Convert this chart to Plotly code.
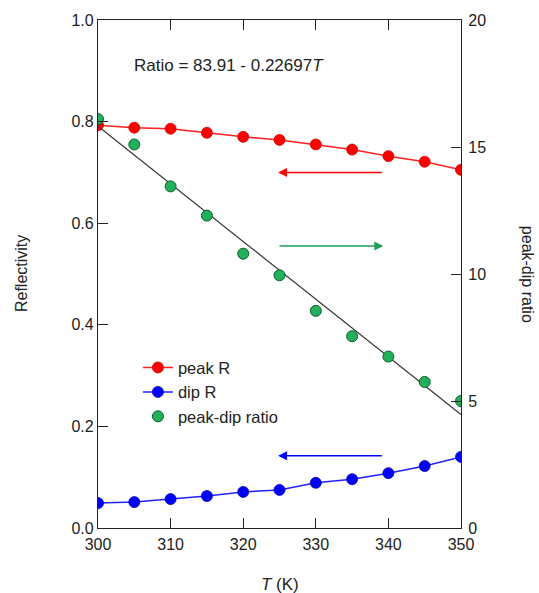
import plotly.graph_objects as go

T = [300, 305, 310, 315, 320, 325, 330, 335, 340, 345, 350]
peak_R = [0.793, 0.788, 0.786, 0.778, 0.770, 0.764, 0.755, 0.745, 0.732, 0.721, 0.705]
dip_R = [0.049, 0.051, 0.057, 0.063, 0.071, 0.075, 0.089, 0.096, 0.108, 0.122, 0.140]
ratio = [16.1, 15.1, 13.45, 12.3, 10.8, 9.95, 8.55, 7.55, 6.75, 5.75, 5.0]
fit_a, fit_b = 83.91, -0.22697
fit_T = [300, 350]
fit_vals = [fit_a + fit_b * t for t in fit_T]

FONT = "Liberation Sans, Arial, sans-serif"
TXT = "#222"
fig = go.Figure()

fig.add_trace(go.Scatter(x=fit_T, y=fit_vals, mode="lines", yaxis="y2",
                         line=dict(color="#333333", width=1.2), showlegend=False))
fig.add_trace(go.Scatter(x=T, y=peak_R, mode="lines+markers", name="peak R",
                         line=dict(color="#ff2020", width=1.5),
                         marker=dict(color="#ff0000", size=11, line=dict(color="#cc0000", width=0.8))))
fig.add_trace(go.Scatter(x=T, y=dip_R, mode="lines+markers", name="dip R",
                         line=dict(color="#2020ff", width=1.5),
                         marker=dict(color="#0000ff", size=11, line=dict(color="#0000aa", width=0.8))))
fig.add_trace(go.Scatter(x=T, y=ratio, mode="markers", name="peak-dip ratio", yaxis="y2",
                         marker=dict(color="#22b05a", size=11, line=dict(color="#0b5e2a", width=1))))

def arrow(x0, x1, y, color):
    fig.add_annotation(x=x1, y=y, ax=x0, ay=y, xref="x", yref="y", axref="x", ayref="y",
                       showarrow=True, arrowhead=2, arrowsize=1.2, arrowwidth=1.5,
                       arrowcolor=color, text="")

arrow(339.3, 324.8, 0.70, "#ff0000")
arrow(324.8, 339.3, 0.555, "#1f9e55")
arrow(339.3, 324.8, 0.142, "#0000ff")

fig.add_annotation(x=304.7, y=0.910, xref="x", yref="y", text="Ratio = 83.91 - 0.22697<i>T</i>",
                   showarrow=False, xanchor="left", yanchor="middle",
                   font=dict(family=FONT, size=17, color=TXT))
fig.add_annotation(x=-0.212, y=0.5, xref="paper", yref="paper", text="Reflectivity", textangle=-90,
                   xanchor="center", yanchor="middle",
                   showarrow=False, font=dict(family=FONT, size=16, color=TXT))
fig.add_annotation(x=1.185, y=0.5, xref="paper", yref="paper", text="peak-dip ratio", textangle=90,
                   xanchor="center", yanchor="middle",
                   showarrow=False, font=dict(family=FONT, size=16, color=TXT))
fig.add_annotation(x=0.5, y=-0.112, xref="paper", yref="paper", text="<i>T</i> (K)",
                   xanchor="center", yanchor="middle",
                   showarrow=False, font=dict(family=FONT, size=17, color=TXT))

axis_common = dict(showline=True, linecolor="#222", linewidth=1.2, ticks="inside", ticklen=10,
                   tickcolor="#222", tickwidth=1.2, showgrid=False, zeroline=False,
                   tickfont=dict(family=FONT, size=16, color=TXT))

fig.update_layout(
    width=539, height=593,
    margin=dict(l=98, r=78, t=20, b=65),
    paper_bgcolor="white", plot_bgcolor="white",
    xaxis=dict(range=[300, 350], dtick=10, mirror="ticks", ticklabelstandoff=2, **axis_common),
    yaxis=dict(range=[0, 1.0], dtick=0.2, tickformat=".1f", **axis_common),
    yaxis2=dict(range=[0, 20], dtick=5, overlaying="y", side="right", ticklabelstandoff=3,
                **axis_common),
    legend=dict(x=0.11, y=0.35, xanchor="left", yanchor="top", bgcolor="rgba(0,0,0,0)",
                font=dict(family=FONT, size=16.5, color=TXT), tracegroupgap=0, itemwidth=30),
    showlegend=True,
)

fig.write_html("out.html", config={"displayModeBar": False},
               post_script="document.body.style.margin='0';document.body.style.overflow='hidden';")
